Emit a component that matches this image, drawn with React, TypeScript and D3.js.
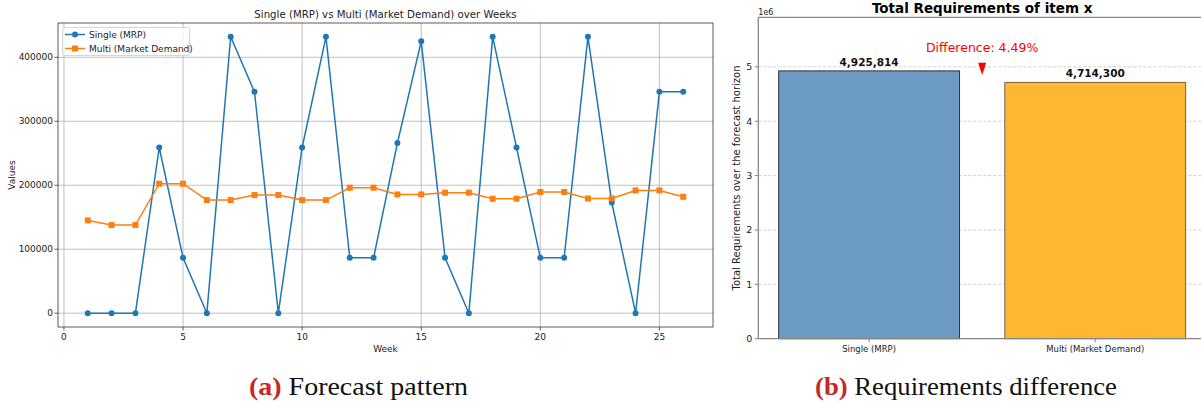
import React from 'react';
import * as d3 from 'd3';

// weekly data
const weeks = d3.range(1, 27);
const singleMRP = [0, 0, 0, 259000, 86500, 0, 432000, 346000, 0, 259000, 432000, 86500, 86500,
    266000, 425000, 86500, 0, 432000, 259000, 86500, 86500, 432000, 173000, 0, 346000, 346000];
const multiDemand = [145000, 137700, 137700, 202400, 202400, 176800, 176800, 184700, 184700, 176800,
    176800, 196100, 196100, 185600, 185600, 188300, 188300, 178900, 178900, 189400, 189400, 179300,
    179300, 191900, 191900, 182000];
const xTicks = [0, 5, 10, 15, 20, 25];
const yTicks = [0, 100000, 200000, 300000, 400000];

// totals for the bar chart
const barNames = ['Single (MRP)', 'Multi (Market Demand)'];
const barTotals = [4925814, 4714300];
const barTicks = [0, 1, 2, 3, 4, 5];

const blue = '#1f77b4';
const orange = '#ff7f0e';
const font = 'DejaVu Sans, sans-serif';

function LineChart() {
    const left = 58, right = 713, top = 23, bottom = 327;
    const ext = d3.extent(singleMRP.concat(multiDemand)) as [number, number];
    const pad = (ext[1] - ext[0]) * 0.05;
    const xPad = (weeks[weeks.length - 1] - weeks[0]) * 0.05;
    const x = d3.scaleLinear().domain([weeks[0] - xPad, weeks[weeks.length - 1] + xPad]).range([left, right]);
    const y = d3.scaleLinear().domain([ext[0] - pad, ext[1] + pad]).range([bottom, top]);

    const line = d3.line<number>().x((d, i) => x(weeks[i])).y(d => y(d));

    return (
        <g fontFamily={font}>
            {xTicks.map(t => (
                <g key={'x' + t}>
                    <line x1={x(t)} x2={x(t)} y1={top} y2={bottom} stroke="#b0b0b0" strokeWidth={0.8} />
                    <line x1={x(t)} x2={x(t)} y1={bottom} y2={bottom + 3.5} stroke="#333" strokeWidth={0.8} />
                    <text x={x(t)} y={bottom + 13} fontSize={9} textAnchor="middle" fill="#222">{t}</text>
                </g>
            ))}
            {yTicks.map(t => (
                <g key={'y' + t}>
                    <line x1={left} x2={right} y1={y(t)} y2={y(t)} stroke="#b0b0b0" strokeWidth={0.8} />
                    <line x1={left - 3.5} x2={left} y1={y(t)} y2={y(t)} stroke="#333" strokeWidth={0.8} />
                    <text x={left - 5} y={y(t) + 3.2} fontSize={9} textAnchor="end" fill="#222">{t}</text>
                </g>
            ))}
            <path d={line(singleMRP) || ''} fill="none" stroke={blue} strokeWidth={1.5} />
            {singleMRP.map((v, i) => (
                <circle key={'s' + i} cx={x(weeks[i])} cy={y(v)} r={3} fill={blue} />
            ))}
            <path d={line(multiDemand) || ''} fill="none" stroke={orange} strokeWidth={1.5} />
            {multiDemand.map((v, i) => (
                <rect key={'m' + i} x={x(weeks[i]) - 3} y={y(v) - 3} width={6} height={6} fill={orange} />
            ))}
            <rect x={left} y={top} width={right - left} height={bottom - top} fill="none" stroke="#333" strokeWidth={0.8} />
            <text x={(left + right) / 2} y={18} fontSize={10.2} textAnchor="middle" fill="#222">
                Single (MRP) vs Multi (Market Demand) over Weeks
            </text>
            <text x={(left + right) / 2} y={352} fontSize={9} textAnchor="middle" fill="#222">Week</text>
            <text transform={`translate(15,${(top + bottom) / 2}) rotate(-90)`} fontSize={9} textAnchor="middle" fill="#222">Values</text>
            {/* legend */}
            <rect x={62.5} y={27.5} width={127} height={28} rx={2} fill="#fff" fillOpacity={0.8} stroke="#ccc" strokeWidth={0.8} />
            <line x1={65} x2={85} y1={34.5} y2={34.5} stroke={blue} strokeWidth={1.5} />
            <circle cx={75} cy={34.5} r={3} fill={blue} />
            <text x={89} y={37.7} fontSize={9} fill="#222">Single (MRP)</text>
            <line x1={65} x2={85} y1={48.5} y2={48.5} stroke={orange} strokeWidth={1.5} />
            <rect x={72} y={45.5} width={6} height={6} fill={orange} />
            <text x={89} y={51.7} fontSize={9} fill="#222">Multi (Market Demand)</text>
        </g>
    );
}

function BarChart() {
    const left = 758.3, top = 17.3, bottom = 338.7;
    const maxV = d3.max(barTotals) as number;
    const x = d3.scaleLinear().domain([-0.49, 1.49]).range([left, 1206]);
    const y = d3.scaleLinear().domain([0, maxV * 1.2]).range([bottom, top]);
    const bw = x(0.8) - x(0);
    const fills = ['#6b9bc3', '#ffb733'];
    const diff = (barTotals[0] - barTotals[1]) / barTotals[1] * 100;
    const midX = x(0.5);
    const fmt = d3.format(',');

    return (
        <g fontFamily={font}>
            {barTicks.map(t => (
                <g key={'g' + t}>
                    {t > 0 && <line x1={left} x2={1206} y1={y(t * 1e6)} y2={y(t * 1e6)} stroke="#bbb" strokeWidth={0.7} strokeDasharray="3,2" />}
                    <line x1={left - 3.5} x2={left} y1={y(t * 1e6)} y2={y(t * 1e6)} stroke="#666" strokeWidth={0.8} />
                    <text x={left - 6} y={y(t * 1e6) + 3.5} fontSize={9.5} textAnchor="end" fill="#222">{t}</text>
                </g>
            ))}
            {barTotals.map((v, i) => (
                <g key={'b' + i}>
                    <rect x={x(i) - bw / 2} y={y(v)} width={bw} height={bottom - y(v)} fill={fills[i]}
                        stroke="#000" strokeOpacity={i === 0 ? 0.75 : 0.55} strokeWidth={1} />
                    <text x={x(i)} y={y(v) - 5} fontSize={10.5} fontWeight="bold" textAnchor="middle" fill="#111">{fmt(v)}</text>
                    <line x1={x(i)} x2={x(i)} y1={bottom} y2={bottom + 3.5} stroke="#666" strokeWidth={0.8} />
                    <text x={x(i)} y={bottom + 13} fontSize={8.5} textAnchor="middle" fill="#222">{barNames[i]}</text>
                </g>
            ))}
            <path d={`M${left},${top}H1206M${left},${top}V${bottom}H1206`} fill="none" stroke="#888" strokeWidth={1.3} />
            <text x={midX} y={y(maxV * 1.07)} fontSize={12.5} textAnchor="middle" fill="red">
                {`Difference: ${diff.toFixed(2)}%`}
            </text>
            <path d={`M${midX - 4},${y(maxV * 1.03)}L${midX + 4},${y(maxV * 1.03)}L${midX},${y(maxV * 0.985)}Z`} fill="red" />
            <text x={(left + 1206) / 2} y={13} fontSize={13.5} fontWeight="bold" textAnchor="middle" fill="#000">
                Total Requirements of item x
            </text>
            <text x={left} y={15} fontSize={8} fill="#222">1e6</text>
            <text transform={`translate(740,${(top + bottom) / 2}) rotate(-90)`} fontSize={10} textAnchor="middle" fill="#222">
                Total Requirements over the forecast horizon
            </text>
        </g>
    );
}

export default function App() {
    return (
        <svg width={1201} height={405} style={{ position: 'absolute', left: 0, top: 0, background: '#fff' }}>
            <rect width={1201} height={405} fill="#fff" />
            <LineChart />
            <BarChart />
            <g fontFamily="Liberation Serif, serif" fontSize={25.5}>
                <text x={249} y={395} fill="#111" textLength={219} lengthAdjust="spacingAndGlyphs">
                    <tspan fill="#c62828" fontWeight="bold">(a)</tspan> Forecast pattern
                </text>
                <text x={815} y={395} fill="#111" textLength={302} lengthAdjust="spacingAndGlyphs">
                    <tspan fill="#c62828" fontWeight="bold">(b)</tspan> Requirements difference
                </text>
            </g>
        </svg>
    );
}
